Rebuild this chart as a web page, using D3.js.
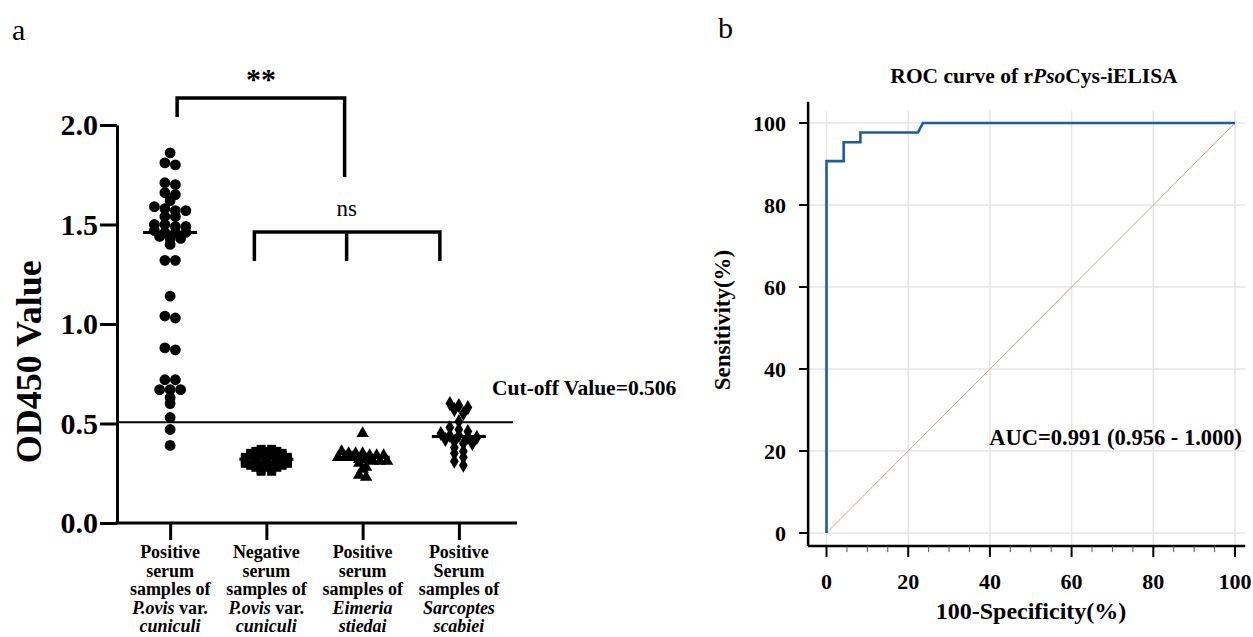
<!DOCTYPE html>
<html>
<head>
<meta charset="utf-8">
<script src="https://cdn.jsdelivr.net/npm/d3@7"></script>
<style>
  html, body { margin: 0; padding: 0; background: #fff; }
  svg { display: block; font-family: "Liberation Serif", "Times New Roman", serif; }
</style>
</head>
<body>
<svg id="chart" width="1253" height="637"></svg>
<script>
// ---------------- Data: panel a ----------------
const categories = ["posPovis", "negPovis", "posEimeria", "posSarcoptes"];
const groupPovisPos = [1.86, 1.81, 1.80, 1.71, 1.70, 1.66, 1.65, 1.62, 1.59, 1.58, 1.57, 1.57,
  1.54, 1.54, 1.50, 1.50, 1.49, 1.49, 1.47, 1.46, 1.46, 1.46, 1.44, 1.43, 1.43, 1.40, 1.32, 1.32,
  1.14, 1.04, 1.03, 0.88, 0.87, 0.72, 0.72, 0.67, 0.67, 0.67, 0.63, 0.60, 0.53, 0.47, 0.39];
const groupPovisNeg = [0.37, 0.37, 0.36, 0.36, 0.36, 0.35, 0.35, 0.35, 0.35, 0.34, 0.34, 0.34, 0.34,
  0.33, 0.33, 0.33, 0.33, 0.33, 0.32, 0.32, 0.32, 0.32, 0.32, 0.31, 0.31, 0.31, 0.31, 0.31,
  0.30, 0.30, 0.30, 0.30, 0.30, 0.29, 0.29, 0.29, 0.29, 0.28, 0.28, 0.28, 0.27, 0.27, 0.26, 0.26];
const groupEimeria = [0.45, 0.36, 0.35, 0.35, 0.35, 0.34, 0.34, 0.34, 0.33, 0.33, 0.33, 0.32, 0.32,
  0.31, 0.31, 0.31, 0.30, 0.28, 0.27, 0.24, 0.23];
const groupSarcoptes = [0.60, 0.59, 0.58, 0.57, 0.55, 0.51, 0.48, 0.47, 0.46, 0.45, 0.44, 0.44, 0.43,
  0.43, 0.42, 0.41, 0.40, 0.40, 0.38, 0.36, 0.35, 0.33, 0.31, 0.29];
const cutoffValue = 0.506;
const yTicksA = [0, 0.5, 1.0, 1.5, 2.0];
const categoryLabels = [
  [[["Positive", false]], [["serum", false]], [["samples of", false]], [["P.ovis", true], [" var.", false]], [["cuniculi", true]]],
  [[["Negative", false]], [["serum", false]], [["samples of", false]], [["P.ovis", true], [" var.", false]], [["cuniculi", true]]],
  [[["Positive", false]], [["serum", false]], [["samples of", false]], [["Eimeria", true]], [["stiedai", true]]],
  [[["Positive", false]], [["Serum", false]], [["samples of", false]], [["Sarcoptes", true]], [["scabiei", true]]]
];

// ---------------- Data: panel b ----------------
const rocFpr = [0, 0, 4.2, 4.2, 8.3, 8.3, 22.4, 23.6, 100];
const rocTpr = [0, 90.7, 90.7, 95.3, 95.3, 97.7, 97.7, 100, 100];
const rocTicks = [0, 20, 40, 60, 80, 100];
const rocMinorTicks = d3.range(0, 101, 5);
const aucText = "AUC=0.991 (0.956 - 1.000)";

const svg = d3.select("#chart");

// =============== PANEL A ===============
const yA = d3.scaleLinear().domain([0, 2]).range([523, 125]);
const xA = d3.scalePoint().domain(categories).range([122, 507]).padding(0.5);
const axLeftA = 117, axRightA = 517;

const gA = svg.append("g");

svg.append("text").attr("x", 12).attr("y", 40).attr("font-size", 30).text("a");

// y axis
const yAxisA = d3.axisLeft(yA).tickValues(yTicksA).tickFormat(d3.format(".1f"))
  .tickSize(17).tickSizeOuter(0).tickPadding(2);
const gyA = gA.append("g").attr("transform", `translate(${axLeftA},0)`).call(yAxisA);
gyA.select(".domain").attr("stroke-width", 3);
gyA.selectAll(".tick line").attr("stroke-width", 3);
gyA.selectAll(".tick text").attr("font-size", 30).attr("font-weight", "bold")
  .attr("font-family", "Liberation Serif, Times New Roman, serif").attr("fill", "#000");

// x axis
gA.append("line").attr("x1", axLeftA - 1.5).attr("x2", axRightA).attr("y1", yA(0)).attr("y2", yA(0))
  .attr("stroke", "#000").attr("stroke-width", 3);
const xAxisA = d3.axisBottom(xA).tickSize(17).tickFormat("");
const gxA = gA.append("g").attr("transform", `translate(0,${yA(0)})`).call(xAxisA);
gxA.select(".domain").remove();
gxA.selectAll(".tick line").attr("stroke-width", 3);

categories.forEach((c, i) => {
  categoryLabels[i].forEach((line, li) => {
    const t = gA.append("text").attr("text-anchor", "middle").attr("font-size", 18).attr("font-weight", "bold")
      .attr("x", xA(c)).attr("y", 558 + li * 18.5);
    line.forEach(seg => {
      t.append("tspan").text(seg[0]).attr("font-style", seg[1] ? "italic" : "normal");
    });
  });
});

// y label
gA.append("text").attr("transform", `translate(41,${yA(0.81)}) rotate(-90)`)
  .attr("text-anchor", "middle").attr("font-size", 36).attr("font-weight", "bold").text("OD450 Value");

// cutoff line
gA.append("line").attr("x1", axLeftA).attr("x2", 513).attr("y1", yA(cutoffValue)).attr("y2", yA(cutoffValue))
  .attr("stroke", "#000").attr("stroke-width", 2);
gA.append("text").attr("x", 492).attr("y", yA(cutoffValue) - 27).attr("font-size", 21.5).attr("font-weight", "bold")
  .text("Cut-off Value=0.506");

// swarm layout: group consecutive values into rows of height rowH px, spread symmetrically
function swarm(values, rowH, dx) {
  const sorted = values.slice().sort((a, b) => b - a);
  const rows = [];
  let cur = null;
  sorted.forEach(v => {
    const py = yA(v);
    if (!cur || py - cur.y0 > rowH) { cur = { y0: py, vals: [] }; rows.push(cur); }
    cur.vals.push(v);
  });
  const out = [];
  rows.forEach(r => r.vals.forEach((v, i) => out.push({ v, off: (i - (r.vals.length - 1) / 2) * dx })));
  return out;
}

const groups = [
  { cat: categories[0], values: groupPovisPos, sym: d3.symbolCircle, size: 92, rowH: 4, dx: 10.5 },
  { cat: categories[1], values: groupPovisNeg, sym: d3.symbolSquare, size: 81, rowH: 1.5, dx: 10.5 },
  { cat: categories[2], values: groupEimeria, sym: d3.symbolTriangle, size: 66, rowH: 5, dx: 7 },
  { cat: categories[3], values: groupSarcoptes, sym: d3.symbolDiamond, size: 66, rowH: 5, dx: 9 }
];

groups.forEach(g => {
  const pts = swarm(g.values, g.rowH, g.dx);
  gA.append("g").selectAll("path").data(pts).join("path")
    .attr("d", d3.symbol().type(g.sym).size(g.size))
    .attr("transform", d => `translate(${xA(g.cat) + d.off},${yA(d.v)})`)
    .attr("fill", "#000");
  const med = d3.median(g.values);
  gA.append("line").attr("x1", xA(g.cat) - 27).attr("x2", xA(g.cat) + 27)
    .attr("y1", yA(med)).attr("y2", yA(med)).attr("stroke", "#000").attr("stroke-width", 3);
});

// significance brackets
const b1L = xA(categories[0]) + 7, b1R = xA(categories[2]) - 18;
gA.append("path").attr("d", `M${b1L},117 V98 H${b1R} V177`).attr("fill", "none")
  .attr("stroke", "#000").attr("stroke-width", 3.5);
gA.append("text").attr("x", (b1L + b1R) / 2).attr("y", 89).attr("text-anchor", "middle")
  .attr("font-size", 30).attr("font-weight", "bold").text("**");

const b2L = xA(categories[1]) - 12, b2M = xA(categories[2]) - 16, b2R = xA(categories[3]) - 19;
gA.append("path").attr("d", `M${b2L},261 V232 H${b2R} V261 M${b2M},232 V261`).attr("fill", "none")
  .attr("stroke", "#000").attr("stroke-width", 3.5);
gA.append("text").attr("x", b2M).attr("y", 216).attr("text-anchor", "middle")
  .attr("font-size", 23).text("ns");

// =============== PANEL B ===============
const xR = d3.scaleLinear().domain([0, 100]).range([826.5, 1235]);
const yR = d3.scaleLinear().domain([0, 100]).range([533, 123]);
const gB = svg.append("g");

svg.append("text").attr("x", 718).attr("y", 38).attr("font-size", 30).text("b");

const axX0 = xR(-4.5), axX1 = xR(102.5), axY0 = yR(-3.2), axY1 = yR(105.2);

// gridlines
gB.append("g").selectAll("line").data(rocTicks).join("line")
  .attr("x1", d => xR(d)).attr("x2", d => xR(d)).attr("y1", yR(103)).attr("y2", axY0)
  .attr("stroke", "#e6e6e6").attr("stroke-width", 1.5);
gB.append("g").selectAll("line").data(rocTicks).join("line")
  .attr("x1", axX0).attr("x2", axX1).attr("y1", d => yR(d)).attr("y2", d => yR(d))
  .attr("stroke", "#e6e6e6").attr("stroke-width", 1.5);

// diagonal
gB.append("line").attr("x1", xR(0)).attr("y1", yR(0)).attr("x2", xR(100)).attr("y2", yR(100))
  .attr("stroke", "#dd9c9c").attr("stroke-width", 1);

// ROC curve
const rocPts = rocFpr.map((f, i) => [f, rocTpr[i]]);
gB.append("path").datum(rocPts)
  .attr("d", d3.line().x(d => xR(d[0])).y(d => yR(d[1])))
  .attr("fill", "none").attr("stroke", "#1b5ca6").attr("stroke-width", 2.6);

// x axis
gB.append("line").attr("x1", axX0).attr("x2", axX1).attr("y1", axY0).attr("y2", axY0)
  .attr("stroke", "#000").attr("stroke-width", 2.5);
gB.append("g").selectAll("line").data(rocMinorTicks.filter(d => d % 20 !== 0)).join("line")
  .attr("x1", d => xR(d)).attr("x2", d => xR(d)).attr("y1", axY0).attr("y2", axY0 + 6)
  .attr("stroke", "#555").attr("stroke-width", 1);
gB.append("g").selectAll("line").data(rocTicks).join("line")
  .attr("x1", d => xR(d)).attr("x2", d => xR(d)).attr("y1", axY0).attr("y2", axY0 + 11)
  .attr("stroke", "#000").attr("stroke-width", 2);
gB.append("g").selectAll("text").data(rocTicks).join("text")
  .attr("x", d => xR(d)).attr("y", axY0 + 43).attr("text-anchor", "middle")
  .attr("font-size", 22).attr("font-weight", "bold").text(d => d);

// y axis
gB.append("line").attr("x1", axX0).attr("x2", axX0).attr("y1", axY0).attr("y2", axY1)
  .attr("stroke", "#000").attr("stroke-width", 2.5);
gB.append("g").selectAll("line").data(rocTicks).join("line")
  .attr("x1", axX0 - 9).attr("x2", axX0).attr("y1", d => yR(d)).attr("y2", d => yR(d))
  .attr("stroke", "#000").attr("stroke-width", 2);
gB.append("g").selectAll("text").data(rocTicks).join("text")
  .attr("x", axX0 - 22).attr("y", d => yR(d)).attr("dy", "0.35em").attr("text-anchor", "end")
  .attr("font-size", 22).attr("font-weight", "bold").text(d => d);

// titles
const title = gB.append("text").attr("x", 1034).attr("y", 83).attr("text-anchor", "middle")
  .attr("font-size", 21.5).attr("font-weight", "bold");
title.append("tspan").text("ROC curve of r");
title.append("tspan").attr("font-style", "italic").text("Pso");
title.append("tspan").text("Cys-iELISA");

gB.append("text").attr("x", 1031).attr("y", 619).attr("text-anchor", "middle")
  .attr("font-size", 24).attr("font-weight", "bold").text("100-Specificity(%)");
gB.append("text").attr("transform", `translate(730,320) rotate(-90)`).attr("text-anchor", "middle")
  .attr("font-size", 23).attr("font-weight", "bold").text("Sensitivity(%)");

gB.append("text").attr("x", 1242).attr("y", 445).attr("text-anchor", "end")
  .attr("font-size", 22.5).attr("font-weight", "bold").text(aucText);
</script>
</body>
</html>
